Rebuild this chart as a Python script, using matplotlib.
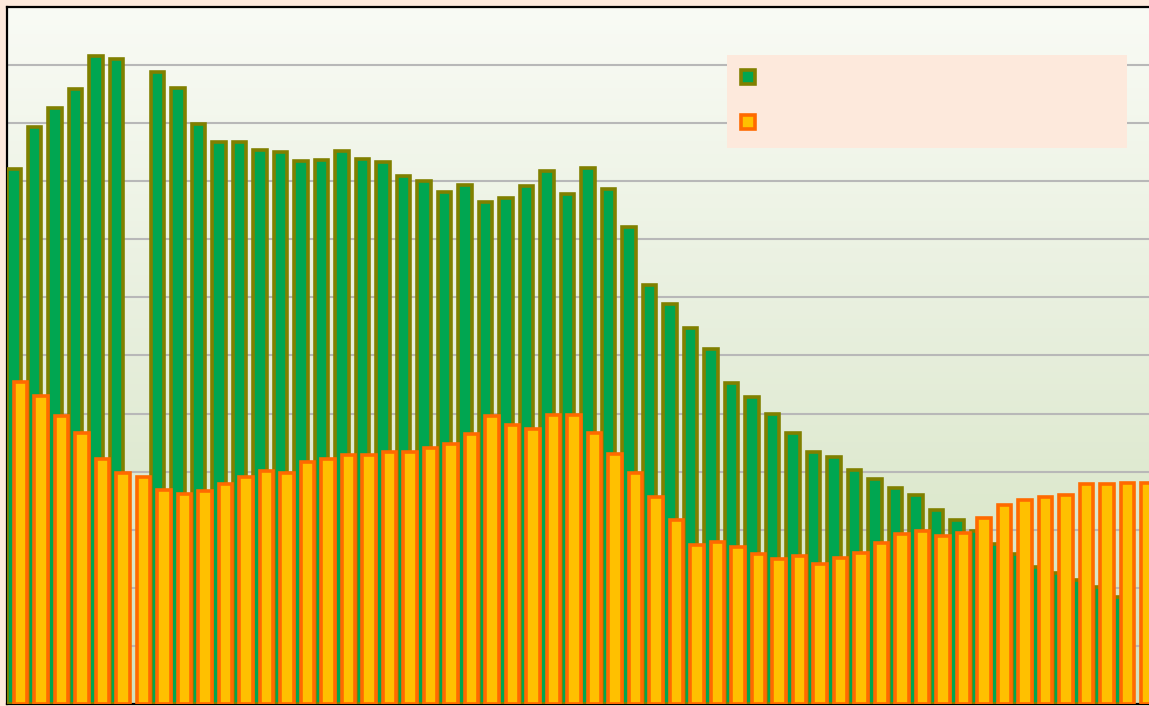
import numpy as np
import matplotlib.pyplot as plt
from matplotlib.lines import Line2D
from matplotlib.colors import LinearSegmentedColormap

# values (no axis labels shown, so units are grid steps)
green_values = [9.21, 9.93, 10.26, 10.58, 11.15, 11.10, np.nan, 10.88, 10.60, 9.98,
                9.68, 9.68, 9.53, 9.50, 9.35, 9.36, 9.52, 9.38, 9.33, 9.09,
                9.01, 8.81, 8.94, 8.64, 8.71, 8.92, 9.17, 8.78, 9.22, 8.87,
                8.21, 7.21, 6.88, 6.48, 6.12, 5.53, 5.29, 5.00, 4.67, 4.34,
                4.26, 4.03, 3.88, 3.72, 3.60, 3.34, 3.16, 2.97, 2.76, 2.58,
                2.36, 2.26, 2.14, 2.02, 1.84, np.nan]
orange_values = [5.55, 5.31, 4.95, 4.66, 4.22, 3.97, 3.90, 3.69, 3.62, 3.67,
                 3.79, 3.91, 4.02, 3.98, 4.16, 4.21, 4.28, 4.29, 4.34, 4.34,
                 4.40, 4.47, 4.64, 4.95, 4.81, 4.74, 4.97, 4.98, 4.67, 4.31,
                 3.97, 3.57, 3.17, 2.74, 2.79, 2.71, 2.59, 2.50, 2.55, 2.41,
                 2.52, 2.60, 2.78, 2.93, 2.98, 2.90, 2.95, 3.21, 3.43, 3.52,
                 3.57, 3.59, 3.78, 3.78, 3.81, 3.81]
categories = list(range(1, len(orange_values) + 1))
series_labels = [" ", " "]

GREEN_FILL, GREEN_EDGE = "#00a651", "#808000"
ORANGE_FILL, ORANGE_EDGE = "#ffc000", "#ff6a00"
PEACH = "#fde9dc"

fig = plt.figure(figsize=(11.49, 7.06), dpi=100, facecolor=PEACH)
# axes runs a little past the right edge of the picture, like the reference
ax = fig.add_axes([7 / 1149, 2 / 706, 1148 / 1149, 697 / 706])

x = np.arange(len(categories))
width = 0.66
offset = 0.16

# background gradient, light at the top, pale green lower down
cmap = LinearSegmentedColormap.from_list("bg", ["#f9fbf5", "#e6eedb", "#d2e2bd"])
grad = np.linspace(0, 1, 256).reshape(-1, 1)
ax.imshow(grad, cmap=cmap, aspect="auto", extent=[0, 1, 0, 1],
          transform=ax.transAxes, zorder=0, vmin=0, vmax=1)

ax.bar(x - offset, green_values, width, color=GREEN_FILL, edgecolor=GREEN_EDGE,
       linewidth=2.6, zorder=3)
ax.bar(x + offset, orange_values, width, color=ORANGE_FILL, edgecolor=ORANGE_EDGE,
       linewidth=2.6, zorder=4)

ax.set_xlim(-0.5, len(categories) - 0.5)
ax.set_ylim(0, 12)
ax.set_yticks(np.arange(0, 13, 1))
ax.yaxis.grid(True, color="#b8b8b8", linewidth=1.5, zorder=1)
ax.set_axisbelow(True)
ax.tick_params(left=False, bottom=False, labelleft=False, labelbottom=False)
ax.set_xticks([])
for side in ["left", "top", "bottom"]:
    ax.spines[side].set_color("black")
    ax.spines[side].set_linewidth(1.6)
ax.spines["right"].set_visible(False)

handles = [
    Line2D([], [], linestyle="none", marker="s", markersize=10,
           markerfacecolor=GREEN_FILL, markeredgecolor=GREEN_EDGE, markeredgewidth=2.6),
    Line2D([], [], linestyle="none", marker="s", markersize=10,
           markerfacecolor=ORANGE_FILL, markeredgecolor=ORANGE_EDGE, markeredgewidth=2.6),
]
leg = ax.legend(handles, series_labels, loc="upper left",
                bbox_to_anchor=(720 / 1148, 0.80, 400 / 1148, 0.131),
                mode="expand", borderaxespad=0, fontsize=10,
                handlelength=0.62, handleheight=1.0, labelspacing=2.24,
                borderpad=1.2, fancybox=False, framealpha=1)
leg.get_frame().set_facecolor(PEACH)
leg.get_frame().set_edgecolor("none")
leg.set_zorder(6)

fig.savefig("out.png", dpi=100, facecolor=PEACH)
